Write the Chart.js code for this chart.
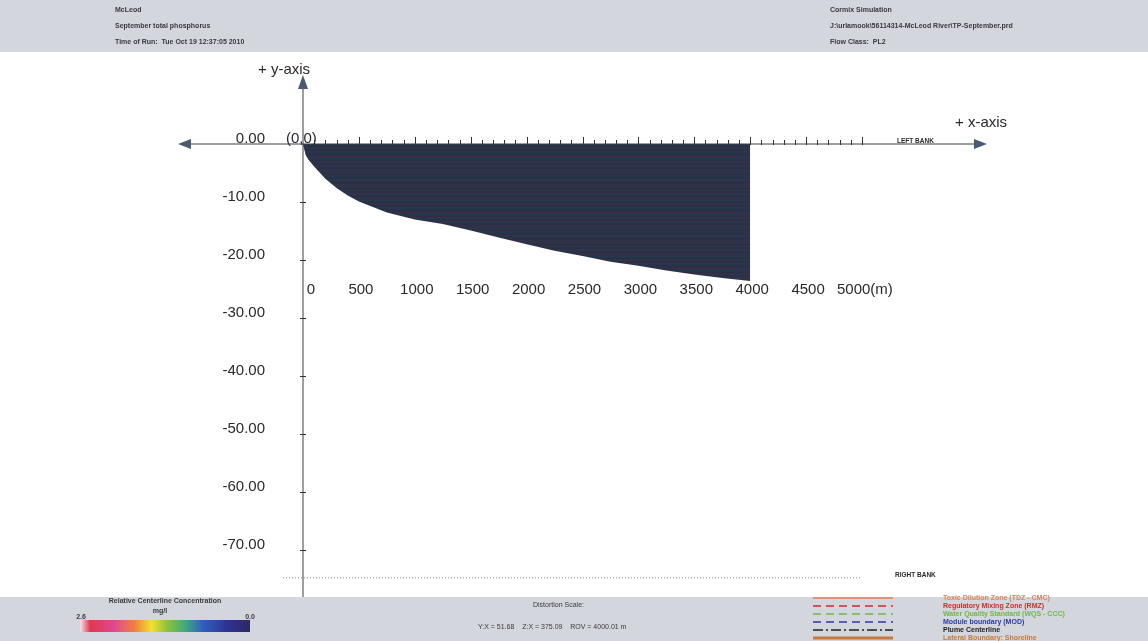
<!DOCTYPE html>
<html>
<head>
<meta charset="utf-8">
<title>CORMIX plume - McLeod</title>
<script src="https://cdn.jsdelivr.net/npm/chart.js@4.4.0/dist/chart.umd.min.js"></script>
<style>
  html, body { margin: 0; padding: 0; background: #fff; }
  canvas { display: block; }
</style>
</head>
<body>
<canvas id="plume" width="1148" height="641"></canvas>
<script>
// plume lower edge (downstream distance m, offset m)
const plumeX = [0, 25, 50, 100, 200, 300, 400, 500, 750, 1000, 1250, 1500, 1750, 2000, 2250, 2500, 2750, 3000, 3250, 3500, 3750, 4000];
const plumeY = [0, -1.9, -2.7, -3.9, -6.0, -7.6, -8.9, -9.9, -11.8, -13.0, -13.8, -14.9, -16.1, -17.3, -18.4, -19.3, -20.3, -21.0, -21.8, -22.5, -23.1, -23.6];

const xTickValues = [0, 500, 1000, 1500, 2000, 2500, 3000, 3500, 4000, 4500, 5000];
const xTickLabels = ['0', '500', '1000', '1500', '2000', '2500', '3000', '3500', '4000', '4500', '5000(m)'];
const yTickValues = [0, -10, -20, -30, -40, -50, -60, -70];
const yTickLabels = ['0.00', '-10.00', '-20.00', '-30.00', '-40.00', '-50.00', '-60.00', '-70.00'];
const rightBankY = -74.8;

const headerLeft = ['McLeod', 'September total phosphorus', 'Time of Run:  Tue Oct 19 12:37:05 2010'];
const headerRight = ['Cormix Simulation', 'J:\\urlamook\\56114314-McLeod River\\TP-September.prd', 'Flow Class:  PL2'];

const legendItems = [
  { text: 'Toxic Dilution Zone (TDZ - CMC)', color: '#e0805a', dash: [], width: 1.5 },
  { text: 'Regulatory Mixing Zone (RMZ)', color: '#d42a2a', dash: [8, 5], width: 1.5 },
  { text: 'Water Quality Standard (WQS - CCC)', color: '#6cb845', dash: [8, 5], width: 1.5 },
  { text: 'Module boundary (MOD)', color: '#2a3aa8', dash: [8, 5], width: 1.5 },
  { text: 'Plume Centerline', color: '#222222', dash: [10, 3, 2, 3], width: 1.5 },
  { text: 'Lateral Boundary: Shoreline', color: '#c87838', dash: [], width: 3 }
];

const FONT = '"Liberation Sans", Arial, sans-serif';

const canvas = document.getElementById('plume');
const ctx = canvas.getContext('2d');

// horizontal banding of the plume fill
function stripePattern() {
  const c = document.createElement('canvas');
  c.width = 1;
  c.height = 14;
  const g = c.getContext('2d');
  const rows = ['#2b3049', '#2d2e47', '#3c3047', '#2c3148', '#223c4d', '#2b3149', '#2e2d46',
                '#382f46', '#25394a', '#2b3049', '#2c2f48', '#353148', '#23394b', '#2b2f47'];
  rows.forEach((col, i) => { g.fillStyle = col; g.fillRect(0, i, 1, 1); });
  return ctx.createPattern(c, 'repeat');
}

// blue tint where the plume leaves the outfall
function sourceTint(context) {
  const chart = context.chart;
  if (!chart.chartArea) return 'rgba(0,0,0,0)';
  const x0 = chart.scales.x.getPixelForValue(0);
  const grad = chart.ctx.createLinearGradient(x0, 0, x0 + 22, 0);
  grad.addColorStop(0, 'rgba(60,72,175,0.85)');
  grad.addColorStop(1, 'rgba(60,72,175,0)');
  return grad;
}

function arrow(g, x, y, dir) {
  g.save();
  g.fillStyle = '#4a5a72';
  g.beginPath();
  if (dir === 'left') { g.moveTo(x, y); g.lineTo(x + 13, y - 5); g.lineTo(x + 13, y + 5); }
  if (dir === 'right') { g.moveTo(x, y); g.lineTo(x - 13, y - 5); g.lineTo(x - 13, y + 5); }
  if (dir === 'up') { g.moveTo(x, y); g.lineTo(x - 5, y + 14); g.lineTo(x + 5, y + 14); }
  g.closePath();
  g.fill();
  g.restore();
}

const bandsPlugin = {
  id: 'bands',
  beforeDraw(chart) {
    const g = chart.ctx;
    g.save();
    g.fillStyle = '#fff';
    g.fillRect(0, 0, chart.width, chart.height);
    g.fillStyle = '#d3d6dc';
    g.fillRect(0, 0, chart.width, 52);
    g.fillRect(0, 597, chart.width, chart.height - 597);

    g.fillStyle = '#3a3a3a';
    g.font = 'bold 7px ' + FONT;
    g.textBaseline = 'middle';
    headerLeft.forEach((t, i) => g.fillText(t, 115, 10 + i * 16));
    headerRight.forEach((t, i) => g.fillText(t, 830, 10 + i * 16));

    // concentration colour bar
    g.textAlign = 'center';
    g.fillText('Relative Centerline Concentration', 165, 601);
    g.fillText('mg/l', 160, 611);
    g.fillText('2.6', 81, 617);
    g.fillText('0.0', 250, 617);
    const grad = g.createLinearGradient(80, 0, 250, 0);
    grad.addColorStop(0, '#f4e4ea');
    grad.addColorStop(0.06, '#e0384e');
    grad.addColorStop(0.2, '#e04890');
    grad.addColorStop(0.32, '#f08040');
    grad.addColorStop(0.42, '#f0e030');
    grad.addColorStop(0.52, '#88c040');
    grad.addColorStop(0.62, '#40a880');
    grad.addColorStop(0.72, '#3060c0');
    grad.addColorStop(0.86, '#2e3494');
    grad.addColorStop(1, '#2e2860');
    g.fillStyle = grad;
    g.fillRect(80, 620, 170, 12);

    g.fillStyle = '#3a3a3a';
    g.font = '7px ' + FONT;
    g.textAlign = 'left';
    g.fillText('Distortion Scale:', 533, 605);
    g.fillText('Y:X = 51.68    Z:X = 375.09    ROV = 4000.01 m', 478, 627);

    // legend
    legendItems.forEach((it, i) => {
      const y = 598 + i * 8;
      g.strokeStyle = it.color;
      g.lineWidth = it.width;
      g.setLineDash(it.dash);
      g.beginPath();
      g.moveTo(813, y);
      g.lineTo(893, y);
      g.stroke();
      g.setLineDash([]);
      g.fillStyle = it.color;
      g.font = 'bold 7px ' + FONT;
      g.fillText(it.text, 943, y);
    });
    g.restore();
  }
};

const axesPlugin = {
  id: 'plumeAxes',
  afterDatasetsDraw(chart) {
    const g = chart.ctx;
    const xs = chart.scales.x;
    const ys = chart.scales.y;
    const x0 = xs.getPixelForValue(0);
    const y0 = ys.getPixelForValue(0);
    g.save();

    // right bank
    const yb = ys.getPixelForValue(rightBankY);
    g.strokeStyle = '#8a8a8a';
    g.lineWidth = 1;
    g.setLineDash([1, 2]);
    g.beginPath();
    g.moveTo(283, yb);
    g.lineTo(xs.getPixelForValue(5000), yb);
    g.stroke();
    g.setLineDash([]);

    // axis lines
    g.strokeStyle = '#3a3f48';
    g.lineWidth = 1;
    g.beginPath();
    g.moveTo(186, y0);
    g.lineTo(978, y0);
    g.moveTo(x0, 86);
    g.lineTo(x0, 597);
    g.stroke();
    arrow(g, 178, y0, 'left');
    arrow(g, 987, y0, 'right');
    arrow(g, x0, 75, 'up');

    // x ticks every 100 m, longer every 500 m
    g.strokeStyle = '#333';
    g.beginPath();
    for (let v = 100; v <= 5000; v += 100) {
      const px = Math.round(xs.getPixelForValue(v)) + 0.5;
      const len = v % 500 === 0 ? 7 : 4;
      g.moveTo(px, y0 - len);
      g.lineTo(px, y0 + 1);
    }
    // y ticks
    yTickValues.forEach(v => {
      if (v === 0) return;
      const py = Math.round(ys.getPixelForValue(v)) + 0.5;
      g.moveTo(x0 - 3, py);
      g.lineTo(x0 + 3, py);
    });
    g.stroke();

    g.fillStyle = '#2a2a2a';
    g.font = '15px ' + FONT;
    g.textBaseline = 'middle';

    // x labels sit below the plume
    const labelY = ys.getPixelForValue(-25.2);
    xTickValues.forEach((v, i) => {
      const px = xs.getPixelForValue(v);
      if (i === xTickLabels.length - 1) {
        g.textAlign = 'left';
        g.fillText(xTickLabels[i], px - 25, labelY);
      } else {
        g.textAlign = 'center';
        g.fillText(xTickLabels[i], px + (v === 0 ? 8 : 2), labelY);
      }
    });

    g.textAlign = 'right';
    yTickValues.forEach((v, i) => {
      g.fillText(yTickLabels[i], 265, ys.getPixelForValue(v) - 5);
    });

    g.textAlign = 'left';
    g.fillText('(0,0)', 286, y0 - 5);
    g.fillText('+ y-axis', 258, 70);
    g.fillText('+ x-axis', 955, 123);

    g.font = 'bold 6.5px ' + FONT;
    g.fillText('LEFT BANK', 897, y0 - 3);
    g.fillText('RIGHT BANK', 895, yb - 3);
    g.restore();
  }
};

const plumePoints = plumeX.map((x, i) => ({ x: x, y: plumeY[i] }));

new Chart(ctx, {
  type: 'line',
  data: {
    datasets: [{
      label: 'Plume',
      data: plumePoints,
      backgroundColor: stripePattern(),
      borderWidth: 0,
      pointRadius: 0,
      fill: 'origin',
      tension: 0
    }, {
      label: 'Near source',
      data: plumePoints,
      backgroundColor: sourceTint,
      borderWidth: 0,
      pointRadius: 0,
      fill: 'origin',
      tension: 0
    }]
  },
  options: {
    responsive: false,
    animation: false,
    devicePixelRatio: 1,
    layout: { padding: { left: 303, right: 286, top: 144, bottom: 62 } },
    plugins: { legend: { display: false }, tooltip: { enabled: false } },
    scales: {
      x: { type: 'linear', min: 0, max: 5000, display: false },
      y: { type: 'linear', min: -75, max: 0, display: false }
    }
  },
  plugins: [bandsPlugin, axesPlugin]
});
</script>
</body>
</html>
